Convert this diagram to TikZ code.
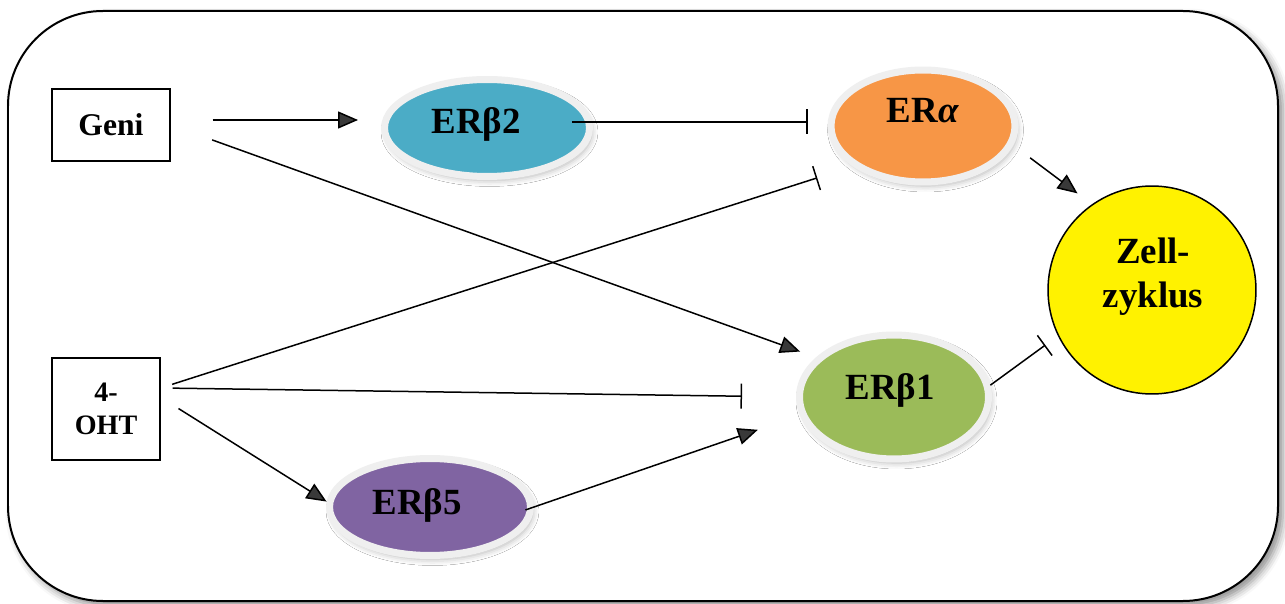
\documentclass[tikz,border=0pt]{standalone}
\usepackage{fontspec}
\setmainfont{Liberation Serif}
\usetikzlibrary{shapes.geometric,arrows.meta,shadows.blur}
\definecolor{ring}{HTML}{EFEFEF}
\definecolor{erbII}{HTML}{4BACC6}
\definecolor{eralpha}{HTML}{F79646}
\definecolor{erbI}{HTML}{9BBB59}
\definecolor{erbV}{HTML}{8064A2}

\begin{document}
\begin{tikzpicture}[x=0.02cm,y=-0.02cm]
	\tikzstyle{blob}=[ellipse,draw=ring,line width=0.14cm,inner sep=0pt,blur shadow={shadow xshift=0.05cm,shadow yshift=-0.08cm,shadow blur radius=0.12cm,shadow opacity=30}]
	\tikzstyle{box}=[draw,line width=0.03cm,align=center,font=\bfseries\fontsize{16}{19}\selectfont]
	\tikzstyle{big}=[font=\bfseries\fontsize{21}{25}\selectfont,inner sep=0pt]
	\tikzstyle{act}=[line width=0.03cm,-{Triangle[length=0.4cm,width=0.34cm]}]
	\tikzstyle{inh}=[line width=0.03cm,-{Bar[width=0.5cm]}]
	\useasboundingbox (0,0) rectangle (1285,604);
	\draw[line width=0.04cm,rounded corners=1.9cm,fill=white,blur shadow={shadow xshift=0.1cm,shadow yshift=-0.1cm,shadow blur radius=0.15cm,shadow opacity=45}] (8,11) rectangle (1278,601);
	% inputs
	\node[box,minimum width=2.36cm,minimum height=1.44cm,font=\bfseries\fontsize{18}{21}\selectfont] (geni) at (111,125) {Geni};
	\node[box,minimum width=2.16cm,minimum height=2.04cm] (oht) at (106,409) {4-\\OHT};
	% receptors
	\node[blob,fill=erbII,minimum width=4.1cm,minimum height=1.94cm] (erb2) at (487,128) {};
	\node[blob,fill=eralpha,minimum width=3.68cm,minimum height=2.24cm] (era) at (923,126) {};
	\node[blob,fill=erbI,minimum width=3.78cm,minimum height=2.48cm] (erb1) at (894,397) {};
	\node[blob,fill=erbV,minimum width=4.02cm,minimum height=1.94cm] (erb5) at (430,507) {};
	\node[circle,draw,line width=0.03cm,fill=yellow,minimum size=4.16cm] (zell) at (1152,290) {};
	\node[big,anchor=base] (erb2txt) at (476,134) {ERβ2};
	\node[big,anchor=base] (eratxt) at (923,123) {ER\textit{α}};
	\node[big,anchor=base] (erb1txt) at (890,400) {ERβ1};
	\node[big,anchor=base] (erb5txt) at (417,515) {ERβ5};
	\node[big,align=center] (zelltxt) at (1153,277) {Zell-\\zyklus};
	% connections
	\draw[act,shorten <=0.84cm,shorten >=0.46cm] ([yshift=0.1cm]geni.east) -- ([yshift=0.1cm]geni.east -| erb2.west);
	\draw[act,shorten <=0.88cm,shorten >=0.34cm] (geni.east) -- (erb1.153);
	\draw[inh,shorten <=-0.42cm,shorten >=0.4cm] ([yshift=0.12cm]erb2.east) -- ([yshift=0.12cm]erb2.east -| era.west);
	\draw[inh,shorten <=0.24cm,shorten >=0.75cm] (oht.21) -- (era.210);
	\draw[inh,shorten <=0.24cm,shorten >=1.08cm] (oht.21) -- (erb1.west);
	\draw[act,shorten <=0.42cm] (oht.12) -- (erb5.177);
	\draw[act,shorten <=-0.18cm,shorten >=0.89cm] (erb5.east) -- (erb1.191);
	\draw[act,shorten <=0.42cm,shorten >=0.36cm] (era.348) -- (zell.125);
	\draw[inh,shorten >=0.31cm] (erb1.7) -- (zell.206);
\end{tikzpicture}
\end{document}
